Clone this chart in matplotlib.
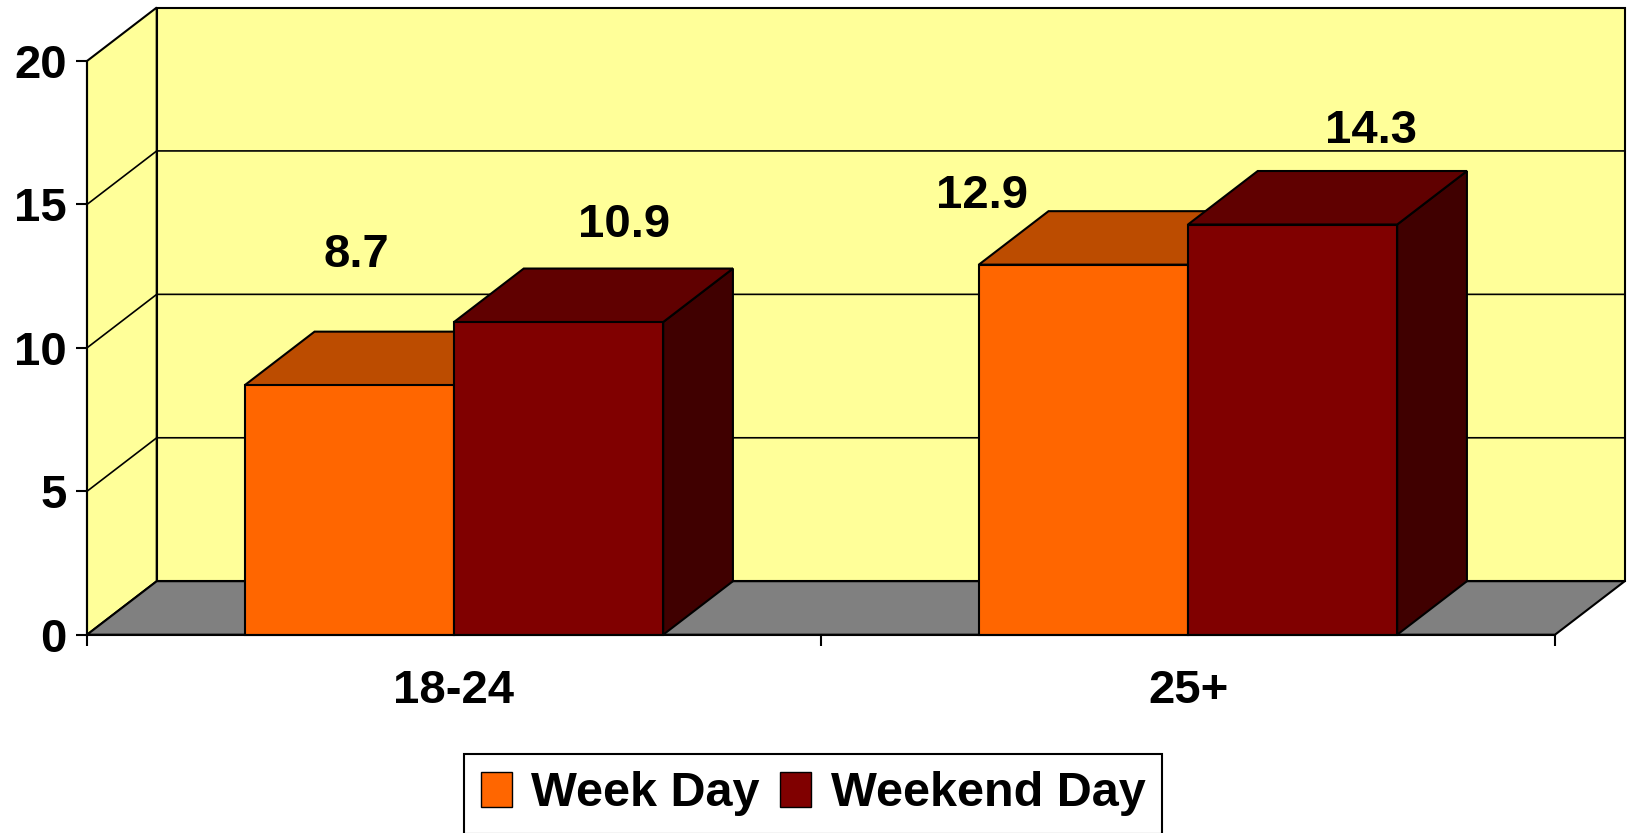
import matplotlib
matplotlib.use('Agg')
import matplotlib.pyplot as plt
from matplotlib.patches import Polygon, Patch

# ---- data ----
categories = ['18-24', '25+']
series_names = ['Week Day', 'Weekend Day']
week_day = [8.7, 12.9]
weekend_day = [10.9, 14.3]
y_ticks = [0, 5, 10, 15, 20]

# ---- style ----
plt.rcParams['font.family'] = ['Liberation Sans', 'DejaVu Sans']
plt.rcParams['font.weight'] = 'bold'
FS = 34
LW = 1.5
WALL = '#FFFF99'
FLOOR = '#808080'
front_colors = ['#FF6600', '#800000']
top_colors = ['#BC4C00', '#600000']
side_colors = ['#7F3300', '#400000']

# label offsets (layout only): x relative to bar front centre, y above value (baseline)
label_dx = [[0.009, -0.1375], [0.089, 0.1065]]
label_dy = [[4.12, 1.97], [2.96, 2.84]]

fig = plt.figure(figsize=(16.3, 8.33), dpi=100)
ax = fig.add_axes([87 / 1630, (833 - 634.7) / 833, 1468 / 1630, (634.7 - 61) / 833])
ncat = len(categories)
ymax = y_ticks[-1]
ax.set_xlim(0, ncat)
ax.set_ylim(0, ymax)
ax.patch.set_visible(False)

DX = 0.095   # depth offset in x units
DY = 1.865   # depth offset in y units

# walls and floor
ax.add_patch(Polygon([(0, 0), (0, ymax), (DX, ymax + DY), (DX, DY)], closed=True,
                     fc=WALL, ec='black', lw=LW, zorder=0, clip_on=False))
ax.add_patch(Polygon([(DX, DY), (DX, ymax + DY), (ncat + DX, ymax + DY), (ncat + DX, DY)],
                     closed=True, fc=WALL, ec='black', lw=LW, zorder=0, clip_on=False))
ax.add_patch(Polygon([(0, 0), (ncat, 0), (ncat + DX, DY), (DX, DY)], closed=True,
                     fc=FLOOR, ec='black', lw=LW, zorder=0.6, clip_on=False))
for t in y_ticks[1:-1]:
    ax.plot([0, DX, ncat + DX], [t, t + DY, t + DY], color='black', lw=1.2,
            zorder=0.5, clip_on=False, solid_capstyle='butt')

# bars
BW = 0.285
series = [week_day, weekend_day]
for i in range(ncat):
    for s, vals in enumerate(series):
        v = vals[i]
        xl = i + 0.5 + (s - 1) * BW
        z = 3 + s
        ax.add_patch(Polygon([(xl + BW, 0), (xl + BW, v), (xl + BW + DX, v + DY), (xl + BW + DX, DY)],
                             closed=True, fc=side_colors[s], ec='black', lw=LW, zorder=z, clip_on=False))
        ax.add_patch(Polygon([(xl, v), (xl + BW, v), (xl + BW + DX, v + DY), (xl + DX, v + DY)],
                             closed=True, fc=top_colors[s], ec='black', lw=LW, zorder=z, clip_on=False))
        ax.bar(xl, v, width=BW, align='edge', color=front_colors[s], edgecolor='black',
               linewidth=LW, zorder=z + 0.1, clip_on=False)
        ax.text(xl + BW / 2 + label_dx[s][i], v + label_dy[s][i], f'{v:.1f}',
                ha='center', va='baseline', fontsize=FS, fontweight='bold', zorder=10)

# axes
for sp in ['top', 'right']:
    ax.spines[sp].set_visible(False)
for sp in ['left', 'bottom']:
    ax.spines[sp].set_linewidth(LW)
    ax.spines[sp].set_zorder(5)

ax.set_yticks(y_ticks)
ax.set_yticklabels([str(t) for t in y_ticks])
ax.tick_params(axis='y', length=8, width=LW, pad=6.5, labelsize=FS)

ax.set_xticks(range(ncat + 1))
ax.set_xticklabels([])
ax.set_xticks([i + 0.5 for i in range(ncat)], minor=True)
ax.set_xticklabels(categories, minor=True)
ax.tick_params(axis='x', which='major', length=8, width=LW)
ax.tick_params(axis='x', which='minor', length=0, pad=25, labelsize=FS)

handles = [Patch(facecolor=c, edgecolor='black', linewidth=1.0) for c in front_colors]
leg = fig.legend(handles=handles, labels=series_names, loc='center',
                 bbox_to_anchor=(813 / 1630, 1 - 794 / 833), ncol=2, frameon=True,
                 fancybox=False, edgecolor='black', framealpha=1,
                 prop={'size': 35, 'weight': 'bold'}, handlelength=0.64, handleheight=0.7,
                 handletextpad=0.4, columnspacing=0.42, borderpad=0.35, borderaxespad=0)
leg.get_frame().set_linewidth(LW)

fig.savefig('out.png', dpi=100)
